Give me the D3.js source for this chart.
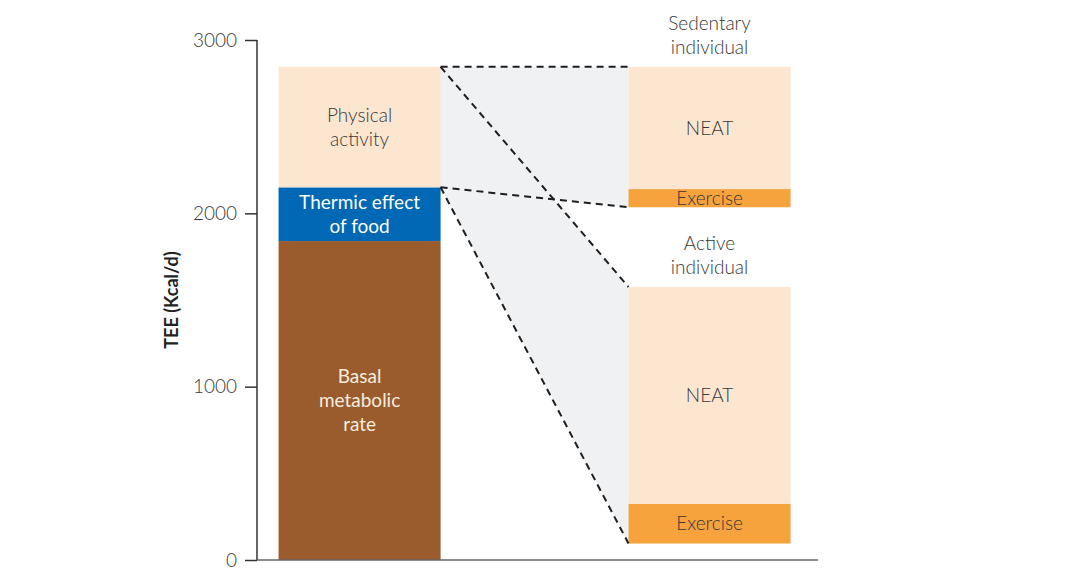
<!DOCTYPE html>
<html>
<head>
<meta charset="utf-8">
<script src="https://cdn.jsdelivr.net/npm/d3@7"></script>
<style>
  body { margin: 0; background: #fff; }
  svg text { font-family: Lato, "Open Sans", sans-serif; }
</style>
</head>
<body>
<div id="chart"></div>
<script>
// y axis
var yTicks = [0, 1000, 2000, 3000];

// left column: stacked components of TEE (kcal/d)
var leftNames = ["Basal metabolic rate", "Thermic effect of food", "Physical activity"];
var leftLabels = [["Basal", "metabolic", "rate"], ["Thermic effect", "of food"], ["Physical", "activity"]];
var leftValues = [1840, 310, 695];

// right column: physical activity split for two individuals
var groups = ["Sedentary individual", "Active individual"];
var groupTitles = [["Sedentary", "individual"], ["Active", "individual"]];
var groupBase = [2035, 95];
var exerciseValues = [105, 230];
var neatValues = [705, 1250];

var colors = {
  "Basal metabolic rate": "#9a5c2c",
  "Thermic effect of food": "#0068b4",
  "Physical activity": "#fde6d0",
  "NEAT": "#fde6d0",
  "Exercise": "#f6a33d"
};
var textColors = {
  "Basal metabolic rate": "#f7ecdf",
  "Thermic effect of food": "#ffffff",
  "Physical activity": "#383838",
  "NEAT": "#383838",
  "Exercise": "#383838"
};

var width = 1080, height = 580;
var svg = d3.select("#chart").append("svg")
  .attr("width", width)
  .attr("height", height);

var y = d3.scaleLinear().domain([0, 3000]).range([560, 40]);
var x = d3.scaleBand()
  .domain(["total", "split"])
  .range([257, 818])
  .paddingInner(0.537)
  .paddingOuter(0.07)
  .align(0.44);
var bw = x.bandwidth();

// stack the left column
var leftStack = [];
var acc = 0;
for (var i = 0; i < leftValues.length; i++) {
  leftStack.push({name: leftNames[i], lines: leftLabels[i], y0: acc, y1: acc + leftValues[i]});
  acc += leftValues[i];
}
var totalTop = acc;
var thermicTop = leftStack[1].y1;

// right column segments
var rightStack = [];
for (var g = 0; g < groups.length; g++) {
  var b = groupBase[g];
  rightStack.push({group: g, name: "Exercise", lines: ["Exercise"], y0: b, y1: b + exerciseValues[g]});
  rightStack.push({group: g, name: "NEAT", lines: ["NEAT"], y0: b + exerciseValues[g], y1: b + exerciseValues[g] + neatValues[g]});
}
var groupTop = groups.map(function(d, g) { return groupBase[g] + exerciseValues[g] + neatValues[g]; });

var xl = x("total") + bw, xr = x("split");

// grey connector areas
var shade = [
  [[xl, y(totalTop)], [xr, y(groupTop[0])], [xr, y(groupBase[0])], [xl, y(thermicTop)]],
  [[xl, y(totalTop)], [xr, y(groupTop[1])], [xr, y(groupBase[1])], [xl, y(thermicTop)]]
];
svg.selectAll(".shade").data(shade).enter().append("path")
  .attr("d", function(d) { return d3.line()(d) + "Z"; })
  .attr("fill", "#f0f1f3");

// bars
function drawSegments(data, xPos) {
  svg.selectAll(null).data(data).enter().append("rect")
    .attr("x", xPos)
    .attr("width", bw)
    .attr("y", function(d) { return y(d.y1); })
    .attr("height", function(d) { return y(d.y0) - y(d.y1); })
    .attr("fill", function(d) { return colors[d.name]; });
}
drawSegments(leftStack, x("total"));
drawSegments(rightStack, x("split"));

// dashed connector lines
var connectors = [
  [totalTop, groupTop[0]],
  [totalTop, groupTop[1]],
  [thermicTop, groupBase[0]],
  [thermicTop, groupBase[1]]
];
svg.selectAll(".conn").data(connectors).enter().append("line")
  .attr("x1", xl).attr("x2", xr)
  .attr("y1", function(d) { return y(d[0]); })
  .attr("y2", function(d) { return y(d[1]); })
  .attr("stroke", "#1e1e1e")
  .attr("stroke-width", 2)
  .attr("stroke-dasharray", "7,5");

// segment labels
var lineH = 24;
function drawLabels(data, cx) {
  data.forEach(function(d) {
    var mid = (y(d.y0) + y(d.y1)) / 2;
    var n = d.lines.length;
    svg.append("text")
      .attr("x", cx)
      .attr("text-anchor", "middle")
      .attr("fill", textColors[d.name])
      .style("font-size", "19px")
      .style("font-weight", d.name == "Thermic effect of food" || d.name == "Basal metabolic rate" ? 400 : 300)
      .selectAll("tspan").data(d.lines).enter().append("tspan")
        .attr("x", cx)
        .attr("y", function(t, k) { return mid + (k - (n - 1) / 2) * lineH; })
        .attr("dy", "0.35em")
        .text(function(t) { return t; });
  });
}
drawLabels(leftStack, x("total") + bw / 2);
drawLabels(rightStack, x("split") + bw / 2);

// group titles above each split bar
groupTitles.forEach(function(lines, g) {
  var cx = x("split") + bw / 2;
  var base = y(groupTop[g]) - 20 - (lines.length - 1) * lineH;
  svg.append("text")
    .attr("text-anchor", "middle")
    .attr("fill", "#383838")
    .style("font-size", "19px")
    .style("font-weight", 300)
    .selectAll("tspan").data(lines).enter().append("tspan")
      .attr("x", cx)
      .attr("y", function(t, k) { return base + k * lineH; })
      .attr("dy", "0.35em")
      .text(function(t) { return t; });
});

// axes
var yAxis = svg.append("g")
  .attr("transform", "translate(257,0)")
  .call(d3.axisLeft(y).tickValues(yTicks).tickSize(12).tickPadding(8).tickFormat(d3.format("d")));
yAxis.select(".domain").attr("stroke", "#333").attr("stroke-width", 1.5).attr("d", "M0," + y(3000) + "V" + y(0));
yAxis.selectAll(".tick line").attr("stroke", "#333").attr("stroke-width", 1.5);
yAxis.selectAll(".tick text")
  .attr("fill", "#3a3a3a")
  .style("font-size", "19px")
  .style("font-weight", 300)
  .style("font-family", "Lato, sans-serif");

svg.append("line")
  .attr("x1", 257).attr("x2", 818)
  .attr("y1", y(0)).attr("y2", y(0))
  .attr("stroke", "#666")
  .attr("stroke-width", 1.5);

svg.append("text")
  .attr("transform", "translate(172," + ((y(0) + y(3000)) / 2) + ") rotate(-90)")
  .attr("text-anchor", "middle")
  .attr("dy", "0.35em")
  .attr("fill", "#222")
  .style("font-size", "18px")
  .style("font-weight", 700)
  .text("TEE (Kcal/d)");
</script>
</body>
</html>
